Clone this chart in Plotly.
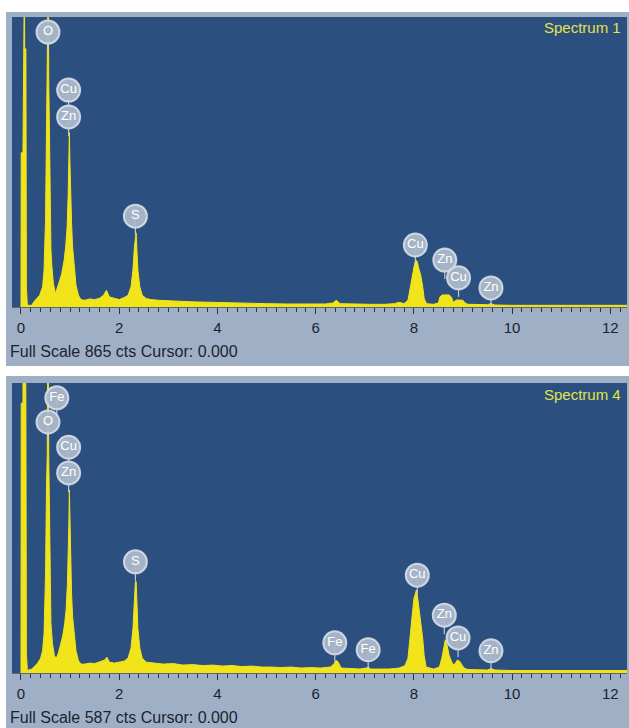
import plotly.graph_objects as go

W, H = 629, 728

# ---------------- data ----------------
# Spectrum 1 (energy in keV, counts)
s1_kev = [0.00, 0.005, 0.04, 0.045, 0.07, 0.075, 0.10, 0.11, 0.13, 0.22, 0.26, 0.32, 0.38, 0.44,
          0.47, 0.50, 0.52, 0.535, 0.545, 0.555, 0.565, 0.58, 0.595, 0.61, 0.63, 0.66, 0.70,
          0.74, 0.78, 0.83, 0.88, 0.91, 0.94, 0.96, 0.975, 0.985, 0.995, 1.01, 1.03, 1.05,
          1.08, 1.12, 1.17, 1.22, 1.30, 1.40, 1.50, 1.60, 1.68, 1.74, 1.80, 1.90, 2.00, 2.10,
          2.18, 2.24, 2.28, 2.31, 2.33, 2.345, 2.36, 2.38, 2.42, 2.47, 2.55, 2.65, 2.80, 3.00,
          3.20, 3.40, 3.60, 3.80, 4.00, 4.30, 4.60, 5.00, 5.40, 5.80, 6.20, 6.35, 6.42, 6.50,
          6.80, 7.10, 7.40, 7.60, 7.70, 7.80, 7.88, 7.93, 7.97, 8.01, 8.04, 8.07, 8.10, 8.14,
          8.18, 8.21, 8.26, 8.40, 8.50, 8.53, 8.58, 8.72, 8.77, 8.80, 8.84, 8.87, 9.00, 9.04,
          9.10, 9.30, 9.50, 9.57, 9.65, 10.0, 10.5, 11.0, 11.5, 12.0, 12.34]
s1_cts = [0, 460, 460, 1000, 1000, 770, 770, 60, 5, 5, 15, 25, 35, 60,
          110, 260, 560, 683, 1000, 1000, 683, 500, 260, 170, 120, 70, 40,
          55, 75, 100, 140, 180, 240, 330, 440, 520, 440, 340, 250, 180,
          120, 65, 35, 22, 20, 24, 22, 26, 35, 50, 30, 26, 22, 28,
          35, 60, 110, 180, 221, 221, 170, 110, 60, 35, 25, 22, 20, 18,
          17, 16, 15, 14, 13, 12, 11, 10, 9, 9, 9, 12, 20, 10,
          8, 8, 8, 10, 14, 10, 20, 60, 100, 125, 140, 135, 115, 95,
          60, 25, 10, 8, 12, 30, 36, 36, 28, 14, 18, 21, 20, 12,
          8, 7, 7, 10, 6, 5, 5, 5, 5, 5, 5]
s1_full_scale = 865
s1_name = "Spectrum 1"
s1_lbl_el = ["O", "Cu", "Zn", "S", "Cu", "Zn", "Cu", "Zn"]
s1_lbl_kev = [0.55, 0.97, 0.97, 2.33, 8.03, 8.63, 8.91, 9.57]
s1_lbl_cts = [820, 647, 567, 271, 185, 140, 87, 57]

# Spectrum 4
s4_kev = [0.00, 0.005, 0.04, 0.045, 0.09, 0.10, 0.11, 0.13, 0.22, 0.28, 0.34, 0.40, 0.44, 0.47,
          0.50, 0.52, 0.535, 0.545, 0.555, 0.565, 0.58, 0.595, 0.61, 0.64, 0.68, 0.72, 0.76,
          0.80, 0.85, 0.89, 0.92, 0.945, 0.96, 0.975, 0.985, 0.995, 1.01, 1.03, 1.05, 1.08,
          1.12, 1.17, 1.22, 1.30, 1.40, 1.50, 1.60, 1.70, 1.75, 1.80, 1.90, 2.00, 2.10, 2.18,
          2.24, 2.28, 2.31, 2.33, 2.345, 2.36, 2.38, 2.42, 2.47, 2.55, 2.70, 2.90, 3.10, 3.30,
          3.50, 3.70, 3.90, 4.10, 4.30, 4.50, 4.70, 4.90, 5.10, 5.30, 5.50, 5.70, 5.90, 6.10,
          6.30, 6.37, 6.42, 6.46, 6.52, 6.70, 6.90, 7.03, 7.07, 7.12, 7.30, 7.50, 7.70, 7.82,
          7.88, 7.93, 7.97, 8.00, 8.03, 8.05, 8.07, 8.10, 8.14, 8.18, 8.21, 8.25, 8.40, 8.52,
          8.57, 8.61, 8.64, 8.68, 8.72, 8.76, 8.80, 8.85, 8.88, 8.93, 8.97, 9.02, 9.10, 9.30,
          9.50, 9.57, 9.65, 10.0, 10.5, 11.0, 11.5, 12.0, 12.34]
s4_cts = [0, 546, 546, 700, 700, 546, 40, 5, 8, 15, 20, 30, 45, 80,
          200, 380, 443, 700, 700, 443, 330, 170, 100, 60, 35, 30, 40,
          55, 75, 100, 130, 180, 230, 300, 370, 310, 230, 160, 115, 80,
          45, 25, 18, 18, 20, 19, 22, 26, 32, 22, 20, 22, 24, 30,
          50, 90, 150, 185, 185, 140, 90, 50, 30, 22, 20, 18, 19, 16,
          17, 15, 16, 14, 15, 13, 14, 12, 12, 11, 12, 10, 11, 10,
          12, 18, 26, 22, 10, 9, 8, 10, 12, 8, 8, 8, 10, 15,
          30, 80, 130, 150, 160, 168, 158, 135, 105, 70, 35, 12, 8, 12,
          30, 55, 67, 55, 35, 25, 16, 20, 26, 24, 18, 10, 7, 6,
          6, 9, 6, 5, 5, 5, 5, 5, 5]
s4_full_scale = 587
s4_name = "Spectrum 4"
s4_lbl_el = ["Fe", "O", "Cu", "Zn", "S", "Fe", "Fe", "Cu", "Zn", "Cu", "Zn"]
s4_lbl_kev = [0.73, 0.55, 0.97, 0.97, 2.33, 6.39, 7.07, 8.07, 8.62, 8.90, 9.57]
s4_lbl_cts = [557, 508, 457, 405, 225, 61, 47, 198, 117, 71, 45]

x_ticks = [0, 2, 4, 6, 8, 10, 12]

# ---------------- styling / layout ----------------
YELLOW = "#f2e41a"
BLUE = "#2b5080"
GRAY = "#9fb0c6"
TXT = "#1b2330"
FONT = "Liberation Sans, Arial, sans-serif"
X_RANGE = [-0.183, 12.34]

# pixel geometry of the two panels
panels = [
    dict(gray=(6, 12, 629, 366), blue=(12, 17, 627, 307), kev=s1_kev, cts=s1_cts,
         fs=s1_full_scale, name=s1_name, el=s1_lbl_el, lk=s1_lbl_kev, lc=s1_lbl_cts, suf=""),
    dict(gray=(6, 376, 629, 728), blue=(12, 383, 627, 673), kev=s4_kev, cts=s4_cts,
         fs=s4_full_scale, name=s4_name, el=s4_lbl_el, lk=s4_lbl_kev, lc=s4_lbl_cts, suf="2"),
]

def px(x):
    return x / W

def py(y):
    return 1 - y / H

fig = go.Figure()
shapes = []
annotations = []
layout_axes = {}

for p in panels:
    gx0, gy0, gx1, gy1 = p["gray"]
    bx0, by0, bx1, by1 = p["blue"]
    shapes.append(dict(type="rect", xref="paper", yref="paper", layer="below",
                       x0=px(gx0), x1=px(gx1), y0=py(gy1), y1=py(gy0),
                       fillcolor=GRAY, line=dict(width=0)))
    shapes.append(dict(type="rect", xref="paper", yref="paper", layer="below",
                       x0=px(bx0), x1=px(bx1), y0=py(by1), y1=py(by0),
                       fillcolor=BLUE, line=dict(width=0)))
    suf = p["suf"]
    xa, ya = "x" + suf, "y" + suf
    fs = p["fs"]
    cpp = fs / (by1 - by0)  # counts per pixel

    fig.add_trace(go.Scatter(x=p["kev"], y=p["cts"], mode="lines", fill="tozeroy",
                             fillcolor=YELLOW, line=dict(color=YELLOW, width=1),
                             xaxis=xa, yaxis=ya, showlegend=False, hoverinfo="skip"))
    # pointer lines from bubbles
    lx, ly = [], []
    for k, c in zip(p["lk"], p["lc"]):
        lx += [k, k, None]
        ly += [c, c - 19 * cpp, None]
    fig.add_trace(go.Scatter(x=lx, y=ly, mode="lines",
                             line=dict(color="rgba(200,208,220,0.95)", width=1.2),
                             xaxis=xa, yaxis=ya, showlegend=False, hoverinfo="skip",
                             cliponaxis=False))
    fig.add_trace(go.Scatter(x=p["lk"], y=p["lc"], mode="markers+text", text=p["el"],
                             textposition="middle center",
                             textfont=dict(family=FONT, size=13, color="white"),
                             marker=dict(size=23, color="rgba(172,184,202,0.95)",
                                         line=dict(color="rgba(215,222,232,0.9)", width=2)),
                             xaxis=xa, yaxis=ya, showlegend=False, hoverinfo="skip",
                             cliponaxis=False))

    xkey = "xaxis" + suf
    ykey = "yaxis" + suf
    layout_axes[xkey] = dict(
        domain=[px(bx0), px(bx1)], range=X_RANGE, anchor=ya,
        tickmode="array", tickvals=x_ticks, ticktext=[str(t) for t in x_ticks],
        ticks="outside", ticklen=6, tickwidth=1, tickcolor="#2a3444",
        minor=dict(dtick=0.2, tick0=0, ticks="outside", ticklen=4, tickwidth=1,
                   tickcolor="#2a3444", showgrid=False),
        showline=True, linecolor="#5a6470", linewidth=1,
        showgrid=False, zeroline=False, fixedrange=True,
        tickfont=dict(family=FONT, size=15, color=TXT), ticklabelstandoff=1,
    )
    layout_axes[ykey] = dict(
        domain=[py(by1), py(by0)], range=[0, fs], anchor=xa,
        visible=False, showgrid=False, zeroline=False, fixedrange=True,
    )
    annotations.append(dict(xref="paper", yref="paper", x=px(623), y=py(by0 + 11),
                            xanchor="right", yanchor="middle", showarrow=False,
                            text=p["name"],
                            font=dict(family=FONT, size=15, color="#e6e24a")))
    annotations.append(dict(xref="paper", yref="paper", x=px(8), y=py(by1 + 44),
                            xanchor="left", yanchor="middle", showarrow=False,
                            text=f"Full Scale {fs} cts Cursor: 0.000",
                            font=dict(family=FONT, size=16, color=TXT)))

fig.update_layout(
    width=W, height=H, margin=dict(l=0, r=0, t=0, b=0),
    paper_bgcolor="white", plot_bgcolor="rgba(0,0,0,0)",
    shapes=shapes, annotations=annotations, showlegend=False,
    **layout_axes,
)

fig.write_html("out.html", config={"displayModeBar": False})
